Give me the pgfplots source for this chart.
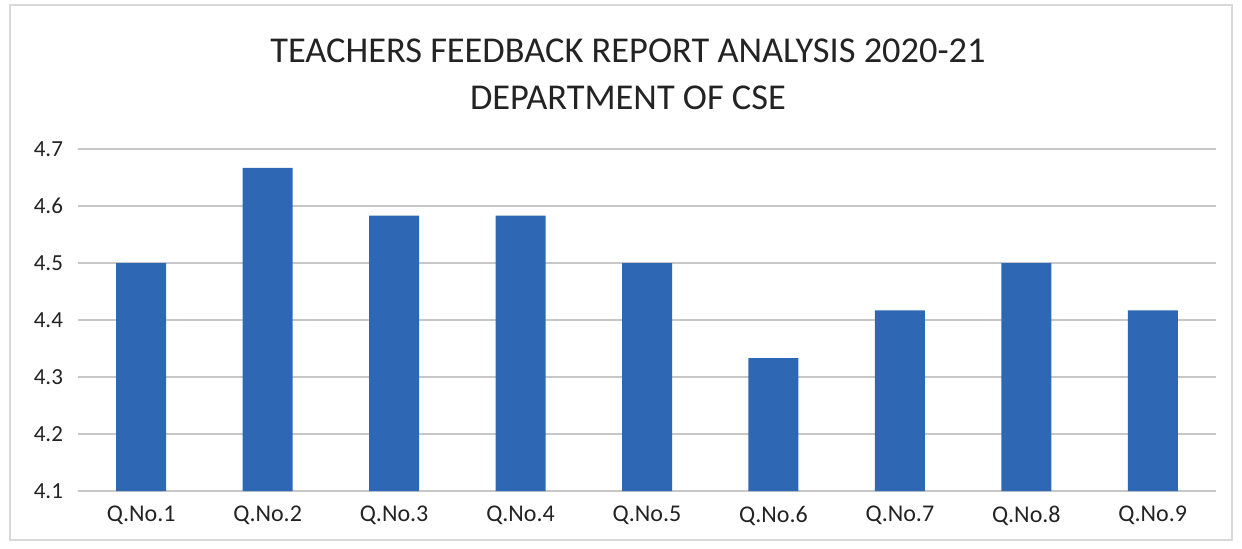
\documentclass[border=0pt]{standalone}
\usepackage{fontspec}
\setmainfont{Carlito}
\usepackage{pgfplots}
\pgfplotsset{compat=1.18}
\definecolor{barblue}{RGB}{46,104,180}
\definecolor{txt}{RGB}{35,35,35}
\begin{document}
\begin{tikzpicture}
\useasboundingbox (0,0) rectangle (621pt,274pt);
\draw[black!15, line width=0.8pt] (5pt,4pt) rectangle (616pt,271.5pt);
\node[text=txt, font=\fontsize{18.2}{22}\selectfont, anchor=base] at (314pt,243pt) {TEACHERS FEEDBACK REPORT ANALYSIS 2020-21};
\node[text=txt, font=\fontsize{18.2}{22}\selectfont, anchor=base] at (314pt,219.5pt) {DEPARTMENT OF CSE};
\begin{axis}[
  at={(39pt,28.5pt)}, anchor=south west,
  scale only axis, width=569pt, height=171pt,
  xmin=-0.5, xmax=8.5, ymin=4.1, ymax=4.7,
  ytick={4.1,4.2,4.3,4.4,4.5,4.6,4.7},
  xtick={0,1,2,3,4,5,6,7,8},
  xticklabels={Q.No.1,Q.No.2,Q.No.3,Q.No.4,Q.No.5,Q.No.6,Q.No.7,Q.No.8,Q.No.9},
  ymajorgrids, grid style={black!22, line width=0.7pt},
  axis line style={draw=none},
  major tick length=0pt,
  /pgf/number format/assume math mode=true,
  yticklabel style={/pgf/number format/fixed, /pgf/number format/precision=1, /pgf/number format/fixed zerofill, font=\fontsize{11.5}{13}\selectfont, text=txt, xshift=-4pt},
  xticklabel style={font=\fontsize{12}{14}\selectfont, text=txt, yshift=-4pt},
]
\addplot[ybar, bar width=25pt, fill=barblue, draw=none] coordinates {
(0,4.5) (1,4.667) (2,4.583) (3,4.583) (4,4.5) (5,4.333) (6,4.417) (7,4.5) (8,4.417)};
\end{axis}
\end{tikzpicture}
\end{document}
